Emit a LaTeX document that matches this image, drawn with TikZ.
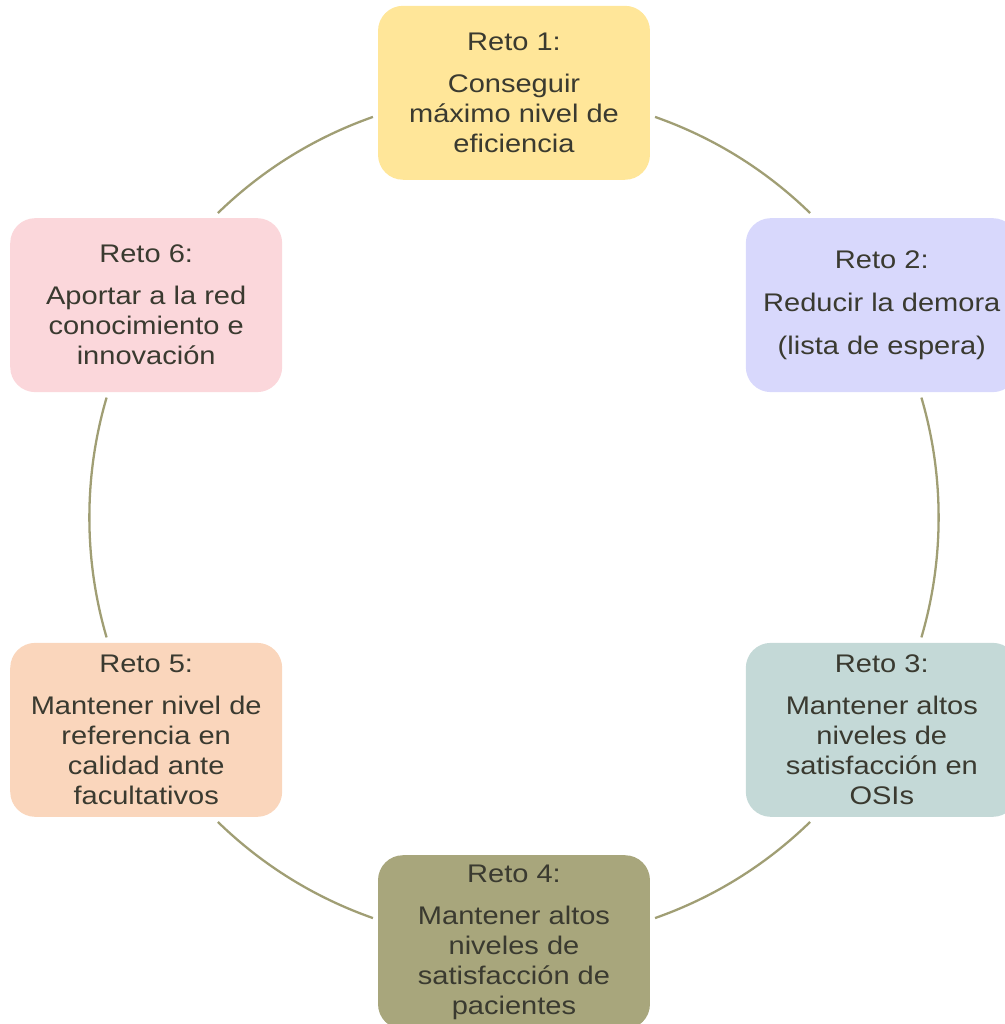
\documentclass[tikz,border=0pt]{standalone}
\usepackage{fontspec}
\setmainfont{Liberation Sans}[FakeStretch=1.14]
\definecolor{ringline}{RGB}{160,158,116}
\definecolor{retotext}{RGB}{58,58,48}
\definecolor{retoA}{RGB}{255,230,153}
\definecolor{retoB}{RGB}{216,216,252}
\definecolor{retoC}{RGB}{196,217,215}
\definecolor{retoD}{RGB}{168,166,124}
\definecolor{retoE}{RGB}{250,214,188}
\definecolor{retoF}{RGB}{251,215,219}
\begin{document}
\begin{tikzpicture}[x=0.02cm,y=0.02cm,
        every node/.style={rounded corners=0.5cm,minimum width=5.44cm,minimum height=3.48cm,
            inner sep=0pt,align=center,text=retotext,font=\fontsize{14.5}{17.07}\selectfont},
        ring/.style={draw=ringline,line width=1.3pt,looseness=0.87}]
            \useasboundingbox (-514,-506.5) rectangle (490,517.5);
            \node[fill=retoA] (R1) at (90:424.7) {Reto 1:\\[6.8pt]Conseguir\\máximo nivel de\\eficiencia};
            \node[fill=retoB] (R2) at (30:424.7) {Reto 2:\\[7.5pt]Reducir la demora\\[7.5pt](lista de espera)};
            \node[fill=retoC] (R3) at (-30:424.7) {Reto 3:\\[6.8pt]Mantener altos\\niveles de\\satisfacción en\\OSIs};
            \node[fill=retoD] (R4) at (-90:424.7) {Reto 4:\\[6.8pt]Mantener altos\\niveles de\\satisfacción de\\pacientes};
            \node[fill=retoE] (R5) at (210:424.7) {Reto 5:\\[6.8pt]Mantener nivel de\\referencia en\\calidad ante\\facultativos};
            \node[fill=retoF] (R6) at (150:424.7) {Reto 6:\\[6.8pt]Aportar a la red\\conocimiento e\\innovación};
            \coordinate (A1) at (70.6:424.7);
            \coordinate (A2) at (45.8:424.7);
            \coordinate (B1) at (16.4:424.7);
            \coordinate (B2) at (-16.4:424.7);
            \coordinate (C1) at (-45.8:424.7);
            \coordinate (C2) at (-70.6:424.7);
            \coordinate (D1) at (-109.4:424.7);
            \coordinate (D2) at (-134.2:424.7);
            \coordinate (E1) at (196.4:424.7);
            \coordinate (E2) at (163.6:424.7);
            \coordinate (F1) at (134.2:424.7);
            \coordinate (F2) at (109.4:424.7);
            \draw [ring] (A1) to[bend left=12.4] (A2);
            \draw [ring] (B1) to[bend left=16.4] (B2);
            \draw [ring] (C1) to[bend left=12.4] (C2);
            \draw [ring] (D1) to[bend left=12.4] (D2);
            \draw [ring] (E1) to[bend left=16.4] (E2);
            \draw [ring] (F1) to[bend left=12.4] (F2);
        \end{tikzpicture}
\end{document}
